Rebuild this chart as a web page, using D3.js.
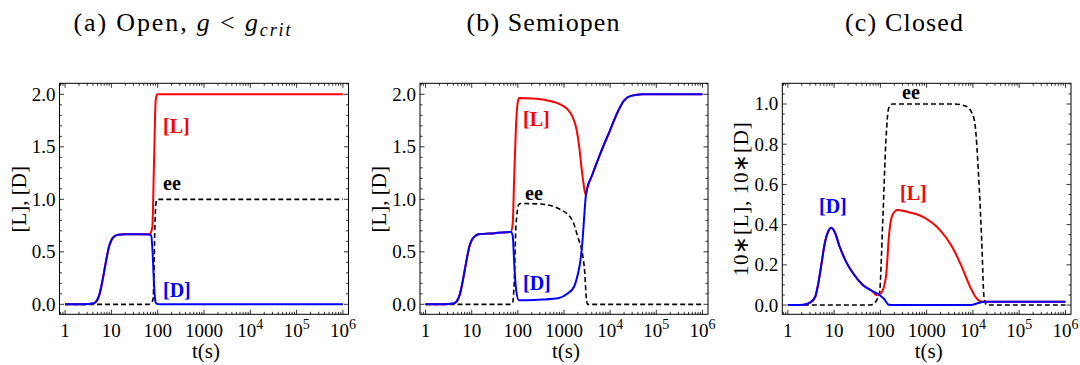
<!DOCTYPE html>
<html>
<head>
<meta charset="utf-8">
<script src="https://cdn.jsdelivr.net/npm/d3@7"></script>
<style>
  body { margin: 0; background: #fff; }
</style>
</head>
<body>
<div id="chart"></div>
<script>
// x axis: decade exponents, t = 10^e seconds
const tickExp = [0, 1, 2, 3, 4, 5, 6];
const yTicksAB = [0, 0.5, 1.0, 1.5, 2.0];
const yTicksC = [0, 0.2, 0.4, 0.6, 0.8, 1.0];

// (a) Open, g < g_crit   (time given as log10 t)
const aD_logt = [0, 0.4, 0.6, 0.67, 0.74, 0.81, 0.88, 0.95, 1.0, 1.06, 1.15, 1.3, 1.6, 1.82, 1.86, 1.89, 1.92, 1.95, 1.98, 2.05, 3, 6];
const aD = [0, 0.001, 0.008, 0.025, 0.09, 0.23, 0.4, 0.55, 0.61, 0.645, 0.662, 0.667, 0.667, 0.666, 0.655, 0.5, 0.2, 0.03, 0.004, 0, 0, 0];
const aL_logt = [0, 0.4, 0.6, 0.67, 0.74, 0.81, 0.88, 0.95, 1.0, 1.06, 1.15, 1.3, 1.6, 1.82, 1.85, 1.885, 1.92, 1.957, 1.99, 2.05, 6];
const aL = [0, 0.001, 0.008, 0.025, 0.09, 0.23, 0.4, 0.55, 0.61, 0.645, 0.662, 0.667, 0.667, 0.667, 0.68, 0.74, 1.34, 1.94, 2.0, 2.0, 2.0];
const aEE_logt = [0, 1.8, 1.86, 1.9, 1.92, 1.94, 1.96, 1.98, 2.02, 6];
const aEE = [0, 0, 0.01, 0.05, 0.3, 0.75, 0.95, 0.995, 1.0, 1.0];

// (b) Semiopen
const bD_logt = [0, 0.4, 0.6, 0.67, 0.74, 0.81, 0.88, 0.95, 1.0, 1.06, 1.15, 1.5, 1.85, 1.89, 1.92, 1.96, 2.02, 2.17, 2.53, 2.89, 3.07, 3.22, 3.29, 3.35, 3.4, 3.44, 3.47, 3.5, 3.6, 3.8, 4.0, 4.15, 4.3, 4.45, 4.7, 6];
const bD = [0, 0.001, 0.008, 0.025, 0.09, 0.23, 0.4, 0.55, 0.61, 0.645, 0.667, 0.678, 0.69, 0.65, 0.4, 0.15, 0.04, 0.04, 0.045, 0.06, 0.1, 0.17, 0.27, 0.4, 0.6, 0.85, 1.02, 1.1, 1.22, 1.45, 1.66, 1.82, 1.94, 1.985, 2.0, 2.0];
const bL_logt = [0, 0.4, 0.6, 0.67, 0.74, 0.81, 0.88, 0.95, 1.0, 1.06, 1.15, 1.5, 1.85, 1.89, 1.92, 1.96, 2.0, 2.03, 2.3, 2.6, 2.89, 3.07, 3.18, 3.27, 3.33, 3.38, 3.42, 3.47, 3.5, 3.6, 3.8, 4.0, 4.15, 4.3, 4.45, 4.7, 6];
const bL = [0, 0.001, 0.008, 0.025, 0.09, 0.23, 0.4, 0.55, 0.61, 0.645, 0.667, 0.678, 0.69, 0.78, 1.2, 1.7, 1.93, 1.965, 1.96, 1.945, 1.91, 1.86, 1.79, 1.67, 1.5, 1.3, 1.16, 1.04, 1.1, 1.22, 1.45, 1.66, 1.82, 1.94, 1.985, 2.0, 2.0];
const bEE_logt = [0, 1.85, 1.89, 1.92, 1.96, 2.02, 2.06, 2.5, 2.89, 3.18, 3.3, 3.4, 3.45, 3.48, 3.51, 6];
const bEE = [0, 0, 0.02, 0.2, 0.75, 0.95, 0.96, 0.955, 0.91, 0.8, 0.64, 0.48, 0.3, 0.08, 0, 0];

// (c) Closed (values scaled 10x for [L], [D])
const cD_logt = [0, 0.34, 0.48, 0.59, 0.66, 0.73, 0.8, 0.87, 0.94, 1.01, 1.12, 1.26, 1.41, 1.62, 1.84, 1.98, 2.08, 2.18, 2.3, 3.9, 4.0, 4.12, 4.25, 4.4, 6];
const cD = [0, 0.002, 0.012, 0.04, 0.11, 0.21, 0.31, 0.365, 0.385, 0.365, 0.29, 0.215, 0.158, 0.1, 0.068, 0.05, 0.03, 0.002, 0, 0, 0.002, 0.01, 0.016, 0.017, 0.017];
const cL_logt = [0, 0.34, 0.48, 0.59, 0.66, 0.73, 0.8, 0.87, 0.94, 1.01, 1.12, 1.26, 1.41, 1.62, 1.84, 1.91, 2.01, 2.12, 2.19, 2.26, 2.37, 2.55, 2.91, 3.26, 3.55, 3.76, 3.94, 4.08, 4.19, 4.3, 6];
const cL = [0, 0.002, 0.012, 0.04, 0.11, 0.21, 0.31, 0.365, 0.385, 0.365, 0.29, 0.215, 0.158, 0.1, 0.066, 0.05, 0.058, 0.14, 0.357, 0.448, 0.473, 0.465, 0.44, 0.38, 0.29, 0.19, 0.09, 0.033, 0.016, 0.017, 0.017];
const cEE_logt = [0, 1.75, 1.83, 1.98, 2.05, 2.12, 2.18, 2.26, 3.6, 3.84, 3.98, 4.05, 4.12, 4.19, 4.24, 4.3, 6];
const cEE = [0, 0, 0.003, 0.058, 0.41, 0.82, 0.98, 1.0, 1.0, 0.99, 0.955, 0.89, 0.655, 0.32, 0.04, 0, 0];

const RED = "#ff0000", BLUE = "#0000ff";
const SERIF = '"Liberation Serif"';

const svg = d3.select("#chart").append("svg")
    .attr("width", 1080)
    .attr("height", 365);

function pairs(lt, vals) {
    return lt.map((e, i) => ({ t: Math.pow(10, e), v: vals[i] }));
}

function txt(sel) {
    return sel.append("text").style("font-family", SERIF);
}

const panels = [
    {
        id: "a", left: 59.5, right: 348.5, top: 83.3, bottom: 314.3,
        yDomain: [-0.095, 2.105], yTicks: yTicksAB, yMinorStep: 0.1,
        ylabel: "[L], [D]", ylabelX: 26, ylabelLen: null,
        titleX: 182, titleLen: 217,
        series: [
            { d: pairs(aEE_logt, aEE), color: "#000", dash: "5,3" },
            { d: pairs(aL_logt, aL), color: RED },
            { d: pairs(aD_logt, aD), color: BLUE }
        ],
        labels: [
            { text: "[L]", x: 163, y: 133, color: RED },
            { text: "ee", x: 163, y: 190, color: "#000" },
            { text: "[D]", x: 163, y: 297, color: BLUE }
        ]
    },
    {
        id: "b", left: 420, right: 708, top: 83.3, bottom: 314.3,
        yDomain: [-0.095, 2.105], yTicks: yTicksAB, yMinorStep: 0.1,
        ylabel: "[L], [D]", ylabelX: 386, ylabelLen: null,
        titleX: 543, titleLen: 153,
        series: [
            { d: pairs(bEE_logt, bEE), color: "#000", dash: "5,3" },
            { d: pairs(bL_logt, bL), color: RED },
            { d: pairs(bD_logt, bD), color: BLUE }
        ],
        labels: [
            { text: "[L]", x: 523, y: 126, color: RED },
            { text: "ee", x: 525, y: 200, color: "#000" },
            { text: "[D]", x: 523, y: 290, color: BLUE }
        ]
    },
    {
        id: "c", left: 782.3, right: 1071, top: 83.3, bottom: 314.3,
        yDomain: [-0.046, 1.103], yTicks: yTicksC, yMinorStep: 0.05,
        ylabel: "10\u2217[L], 10\u2217[D]", ylabelX: 748, ylabelLen: 154,
        titleX: 904, titleLen: 118,
        series: [
            { d: pairs(cEE_logt, cEE), color: "#000", dash: "5,3" },
            { d: pairs(cL_logt, cL), color: RED },
            { d: pairs(cD_logt, cD), color: BLUE }
        ],
        labels: [
            { text: "ee", x: 902, y: 99, color: "#000" },
            { text: "[L]", x: 900, y: 200, color: RED },
            { text: "[D]", x: 819, y: 213, color: BLUE }
        ]
    }
];

// titles
const titleY = 31;
function drawTitle(p) {
    const t = txt(svg)
        .attr("x", p.titleX).attr("y", titleY)
        .attr("text-anchor", "middle")
        .attr("textLength", p.titleLen)
        .attr("lengthAdjust", "spacing")
        .style("font-size", "26px");
    if (p.id === "a") {
        t.append("tspan").text("(a) Open, ");
        t.append("tspan").style("font-style", "italic").text("g");
        t.append("tspan").text(" < ");
        t.append("tspan").style("font-style", "italic").text("g");
        t.append("tspan").style("font-style", "italic").style("font-size", "18px")
            .attr("dy", 5).text("crit");
    } else if (p.id === "b") {
        t.text("(b) Semiopen");
    } else {
        t.text("(c) Closed");
    }
}

function drawPanel(p) {
    const x = d3.scaleLog()
        .domain([Math.pow(10, -0.12), Math.pow(10, 6.12)])
        .range([p.left, p.right]);
    const y = d3.scaleLinear()
        .domain(p.yDomain)
        .range([p.bottom, p.top]);

    const g = svg.append("g");

    // clip to frame
    const clipId = "clip-" + p.id;
    svg.append("clipPath").attr("id", clipId)
        .append("rect")
        .attr("x", p.left).attr("y", p.top)
        .attr("width", p.right - p.left).attr("height", p.bottom - p.top);

    const line = d3.line()
        .x(d => x(d.t))
        .y(d => y(d.v))
        .curve(d3.curveMonotoneX);

    const lines = g.append("g").attr("clip-path", `url(#${clipId})`);
    p.series.forEach(s => {
        lines.append("path")
            .datum(s.d)
            .attr("d", line)
            .attr("fill", "none")
            .attr("stroke", s.color)
            .attr("stroke-width", s.dash ? 1.6 : 2)
            .attr("stroke-dasharray", s.dash || null)
            .attr("stroke-linejoin", "round");
    });

    // frame ticks (inward, all four sides)
    const majorLen = 4.5, minorLen = 2.5;
    const xMajors = tickExp.map(e => Math.pow(10, e));
    const xMinors = [];
    for (let e = -1; e <= 6; e++) {
        for (let k = 2; k <= 9; k++) {
            const v = k * Math.pow(10, e);
            if (v >= x.domain()[0] && v <= x.domain()[1]) xMinors.push(v);
        }
    }
    const yMinors = d3.range(-1, 30).map(i => +(i * p.yMinorStep).toFixed(3))
        .filter(v => v >= p.yDomain[0] && v <= p.yDomain[1] && !p.yTicks.some(t => Math.abs(t - v) < 1e-6));

    const tk = g.append("g").attr("stroke", "#000").attr("stroke-width", 0.8);
    const hTick = (xx, len) => {
        tk.append("line").attr("x1", xx).attr("x2", xx).attr("y1", p.bottom).attr("y2", p.bottom - len);
        tk.append("line").attr("x1", xx).attr("x2", xx).attr("y1", p.top).attr("y2", p.top + len);
    };
    const vTick = (yy, len) => {
        tk.append("line").attr("y1", yy).attr("y2", yy).attr("x1", p.left).attr("x2", p.left + len);
        tk.append("line").attr("y1", yy).attr("y2", yy).attr("x1", p.right).attr("x2", p.right - len);
    };
    xMajors.forEach(v => hTick(x(v), majorLen));
    xMinors.forEach(v => hTick(x(v), minorLen));
    p.yTicks.forEach(v => vTick(y(v), majorLen));
    yMinors.forEach(v => vTick(y(v), minorLen));

    g.append("rect")
        .attr("x", p.left).attr("y", p.top)
        .attr("width", p.right - p.left).attr("height", p.bottom - p.top)
        .attr("fill", "none").attr("stroke", "#000").attr("stroke-width", 1);

    // x tick labels
    tickExp.forEach(e => {
        const t = txt(g)
            .attr("x", x(Math.pow(10, e))).attr("y", 337)
            .attr("text-anchor", "middle")
            .style("font-size", "19px");
        if (e <= 3) {
            t.text(String(Math.pow(10, e)));
        } else {
            t.append("tspan").text("10");
            t.append("tspan").attr("dy", -8).style("font-size", "14px").text(String(e));
        }
    });

    // y tick labels
    p.yTicks.forEach(v => {
        txt(g)
            .attr("x", p.left - 4).attr("y", y(v))
            .attr("dy", "0.34em")
            .attr("text-anchor", "end")
            .style("font-size", "19px")
            .text(d3.format(".1f")(v));
    });

    // axis labels
    txt(g)
        .attr("x", (p.left + p.right) / 2 + 2).attr("y", 358)
        .attr("text-anchor", "middle")
        .style("font-size", "21px")
        .text("t(s)");

    const yl = txt(g)
        .attr("transform", `translate(${p.ylabelX},${(p.top + p.bottom) / 2 + 0.5}) rotate(-90)`)
        .attr("text-anchor", "middle")
        .style("font-size", "21px")
        .text(p.ylabel);
    if (p.ylabelLen) yl.attr("textLength", p.ylabelLen).attr("lengthAdjust", "spacing");

    // curve labels
    p.labels.forEach(l => {
        txt(g)
            .attr("x", l.x).attr("y", l.y)
            .style("font-size", "20px")
            .style("font-weight", "bold")
            .style("fill", l.color)
            .text(l.text);
    });

    drawTitle(p);
}

panels.forEach(drawPanel);
</script>
</body>
</html>
